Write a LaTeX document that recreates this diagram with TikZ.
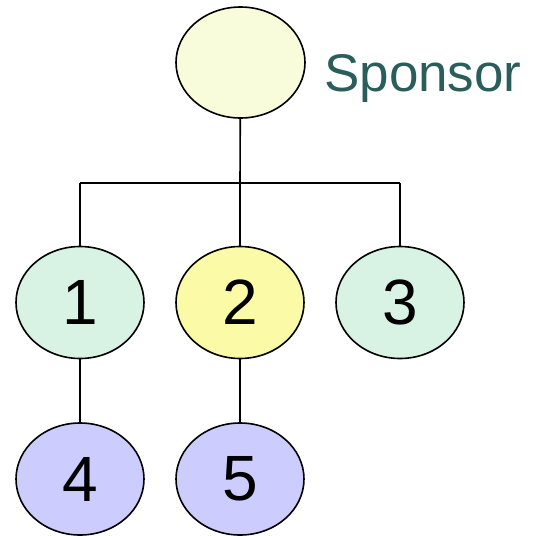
\documentclass[tikz,border=0pt]{standalone}
\usepackage{fontspec}
\setmainfont{Liberation Sans}
\usetikzlibrary{shapes.geometric}
\definecolor{spfill}{HTML}{F8FCDB}
\definecolor{greenfill}{HTML}{D8F2E4}
\definecolor{yellowfill}{HTML}{FBFAA6}
\definecolor{bluefill}{HTML}{CCCCFF}
\definecolor{sptext}{HTML}{2A5E5A}
\begin{document}
\begin{tikzpicture}[x=1pt,y=-1pt,
  oval/.style={ellipse,draw=black,line width=1.6pt,inner sep=0pt,
    minimum width=128pt,minimum height=112pt,font=\fontsize{64}{70}\selectfont},
  conn/.style={draw=black,line width=1.6pt}]
\useasboundingbox (0,0) rectangle (533,536);
\node[oval,fill=spfill,minimum width=129pt,minimum height=111pt] (sp) at (240.5,62.5) {};
\node[anchor=base west,inner sep=0pt,text=sptext,font=\fontsize{53}{60}\selectfont] (lbl) at (324,91) {Sponsor};
\node[oval,fill=greenfill] (n1) at (80,302.5) {1};
\node[oval,fill=yellowfill] (n2) at (240,302.5) {2};
\node[oval,fill=greenfill] (n3) at (400,302.5) {3};
\node[oval,fill=bluefill] (n4) at (80,479) {4};
\node[oval,fill=bluefill] (n5) at (240,479) {5};
\coordinate (hl) at (80,183);
\coordinate (hm) at (240,183);
\coordinate (hr) at (400,183);
\draw[conn] (sp) -- (hm);
\draw[conn] (hl) -- (hr);
\draw[conn] (hl) -- (n1);
\draw[conn] (hm) -- (n2);
\draw[conn] (hr) -- (n3);
\draw[conn] (n1) -- (n4);
\draw[conn] (n2) -- (n5);
\end{tikzpicture}
\end{document}
